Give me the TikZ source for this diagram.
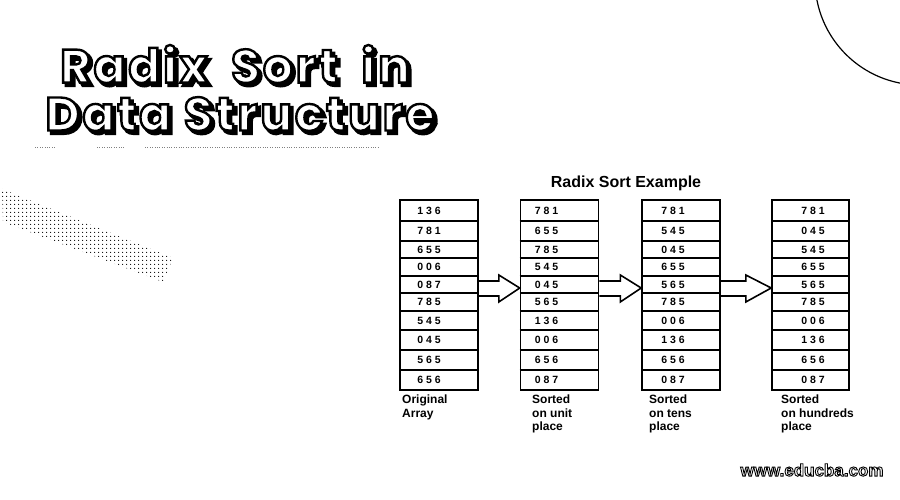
\documentclass[tikz,border=0pt]{standalone}
\usepackage{fontspec}
\setmainfont{Liberation Sans}
\newfontfamily\titlefont{Poppins}[LetterSpace=6]
\usetikzlibrary{calc,patterns.meta}

\tikzset{
  col/.style={draw, line width=1.6pt, minimum width=78pt, minimum height=190pt, inner sep=0pt},
  num/.style={anchor=west, inner sep=0pt, font=\bfseries\fontsize{10.5}{12}\selectfont},
  captxt/.style={anchor=north west, align=left, inner sep=0pt, font=\bfseries\fontsize{12}{13.5}\selectfont},
  ttl/.style={inner sep=0pt, font=\titlefont\bfseries\fontsize{47}{47}\selectfont},
  blk/.style={line width=1.6pt, line join=miter}
}

\begin{document}
\begin{tikzpicture}[x=1pt, y=-1pt]
\useasboundingbox (0,0) rectangle (900,500);
\clip (0,0) rectangle (900,500);

% outlined text: text, stroke width
\def\outl#1#2{\special{pdf:literal direct 2 Tr #2 w 0 G}#1\special{pdf:literal direct 0 Tr}}

\def\rowy{{210.5,231,249.5,267,284.5,302,320.5,340,360,380}}

% background bits
\draw[line width=1.2pt] (920,-20) circle (105);
\fill[pattern={Dots[distance=4pt, radius=0.7pt]}] (2,189) -- (173,258) -- (163,282) -- (3,222) -- cycle;
\draw[dotted, gray] (145,147) -- (378,147);
\draw[dotted, gray] (97,147) -- (125,147);
\draw[dotted, gray] (35,147) -- (55,147);

% title
\node[ttl, text=black] (sh1) at (238,67) {\outl{Radix\hspace{11pt} Sort\hspace{11pt} in}{3}};
\node[ttl, text=white] (title1) at (235,64) {\outl{Radix\hspace{11pt} Sort\hspace{11pt} in}{2.4}};
\node[ttl, text=black] (sh2) at (243,117) {\outl{Data Structure}{3}};
\node[ttl, text=white] (title2) at (240,114) {\outl{Data Structure}{2.4}};

\node[font=\bfseries\fontsize{16}{18}\selectfont] (hdr) at (626,183) {Radix Sort Example};

\node[col] (c1) at (439,295) {};
\node[col] (c2) at (559.5,295) {};
\node[col] (c3) at (681,295) {};
\node[col, minimum width=77pt] (c4) at (810.5,295) {};

\foreach \c in {c1,c2,c3,c4}
  \foreach \yy in {221,241,258,276,293,311,330,350,370}
    \draw[line width=1.3pt] (\c.west |- 0,\yy) -- (\c.east |- 0,\yy);

\foreach \c/\dx/\lst in {
    c1/18/{1 3 6,7 8 1,6 5 5,0 0 6,0 8 7,7 8 5,5 4 5,0 4 5,5 6 5,6 5 6},
    c2/15/{7 8 1,6 5 5,7 8 5,5 4 5,0 4 5,5 6 5,1 3 6,0 0 6,6 5 6,0 8 7},
    c3/20/{7 8 1,5 4 5,0 4 5,6 5 5,5 6 5,7 8 5,0 0 6,1 3 6,6 5 6,0 8 7},
    c4/30/{7 8 1,0 4 5,5 4 5,6 5 5,5 6 5,7 8 5,0 0 6,1 3 6,6 5 6,0 8 7}}
  \foreach \v [count=\i from 0] in \lst {
    \pgfmathsetmacro\yy{\rowy[\i]}
    \node[num] (\c n\i) at ($(\c.west |- 0,\yy)+(\dx,0)$) {\v};
  }

\foreach \a/\b/\l in {c1/c2/20, c2/c3/21, c3/c4/25}
  \draw[blk] ($(\a.east)+(0,-14)$) -- ($(\a.east)+(\l,-14)$) -- ($(\a.east)+(\l,-20)$)
    -- ($(\b.west)+(0,-7)$) -- ($(\a.east)+(\l,7)$) -- ($(\a.east)+(\l,1)$) -- ($(\a.east)+(0,1)$);

\node[captxt] (l1) at (402,395) {Original\\Array};
\node[captxt] (l2) at (532,395) {Sorted\\on unit\\place};
\node[captxt] (l3) at (649,395) {Sorted\\on tens\\place};
\node[captxt] (l4) at (781,395) {Sorted\\on hundreds\\place};

% watermark
\node[font=\bfseries\fontsize{17}{17}\selectfont, text=white, inner sep=0pt] (wm) at (812,470) {\outl{www.educba.com}{0.9}};

\end{tikzpicture}
\end{document}
